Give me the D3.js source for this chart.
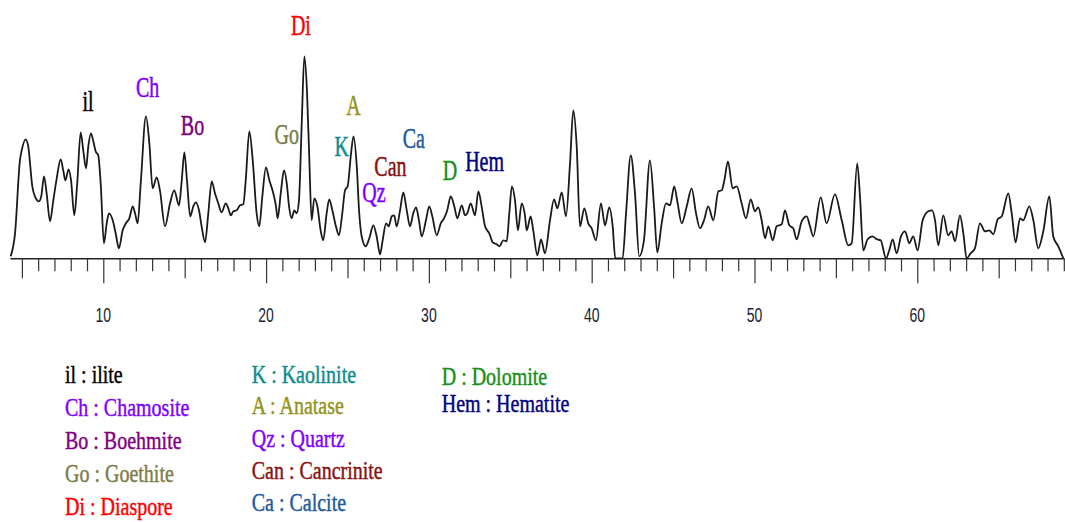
<!DOCTYPE html>
<html>
<head>
<meta charset="utf-8">
<script src="https://cdn.jsdelivr.net/npm/d3@7"></script>
<style>
  body { margin: 0; background: #fff; }
  .peak-label, .legend-item { font-family: "Liberation Serif", "Times New Roman", serif; font-size: 20px; }
  .tick-label { font-family: "Liberation Sans", Arial, sans-serif; font-size: 14px; fill: #1b2233; }
</style>
</head>
<body>
<div id="content"></div>
<script>
// 2-theta (deg) and intensity (a.u.)
var twoTheta = [
  4.31,4.58,4.88,4.99,5.23,5.39,5.64,5.80,6.05,6.19,
  6.36,6.52,6.73,6.93,7.14,7.38,7.54,7.67,7.87,8.02,
  8.22,8.40,8.61,8.77,8.94,9.08,9.24,9.39,9.53,9.69,
  9.84,10.04,10.21,10.35,10.58,10.76,10.96,11.19,11.39,11.60,
  11.81,11.95,12.11,12.30,12.62,12.83,13.03,13.28,13.48,13.79,
  14.10,14.36,14.65,14.82,14.98,15.14,15.34,15.53,15.68,15.88,
  16.04,16.25,16.45,16.66,16.86,17.06,17.27,17.52,17.68,17.83,
  17.99,18.19,18.40,18.60,18.75,18.97,19.18,19.42,19.58,19.77,
  19.99,20.20,20.41,20.61,20.71,20.92,21.10,21.27,21.41,21.57,
  21.73,21.88,22.02,22.19,22.35,22.51,22.65,22.80,22.96,23.15,
  23.35,23.51,23.72,23.88,24.07,24.29,24.48,24.68,24.85,25.01,
  25.22,25.37,25.57,25.71,25.87,26.12,26.34,26.59,26.79,27.00,
  27.16,27.37,27.53,27.72,27.87,28.02,28.23,28.43,28.64,28.84,
  29.04,29.21,29.39,29.56,29.82,30.02,30.21,30.48,30.73,30.93,
  31.13,31.34,31.56,31.75,32.02,32.22,32.36,32.57,32.83,33.04,
  33.24,33.45,33.71,33.92,34.17,34.33,34.57,34.78,34.94,35.10,
  35.29,35.47,35.70,35.90,36.01,36.25,36.41,36.66,36.89,37.13,
  37.44,37.69,37.89,38.16,38.42,38.67,38.87,39.08,39.28,39.55,
  39.79,40.00,40.26,40.57,40.82,41.08,41.29,41.45,41.90,42.11,
  42.40,42.66,42.92,43.21,43.58,43.83,44.03,44.30,44.56,44.81,
  45.07,45.28,45.53,45.84,46.14,46.41,46.65,46.90,47.16,47.47,
  47.78,47.99,48.15,48.37,48.66,48.91,49.21,49.48,49.77,50.03,
  50.23,50.44,50.65,50.85,51.12,51.36,51.67,51.87,52.14,52.38,
  52.59,52.90,53.21,53.41,53.61,54.07,54.43,54.94,55.36,55.76,
  55.97,56.31,56.48,56.68,56.95,57.24,57.51,57.75,58.08,58.28,
  58.49,58.73,59.00,59.25,59.51,59.75,60.02,60.33,60.68,60.92,
  61.09,61.29,61.60,61.90,62.11,62.32,62.62,62.83,63.03,63.28,
  63.54,63.85,64.16,64.42,64.67,64.94,65.19,65.59,65.80,66.04,
  66.31,66.51,66.88,67.13,67.43,67.74,68.11,68.35,68.66,68.97
];
var intensity = [
  2,25,98,108,119,112,72,62,57,62,
  82,65,37,58,80,99,88,78,89,78,
  43,75,126,108,90,112,125,117,107,103,
  75,15,35,45,38,25,10,28,35,40,
  52,45,35,75,142,115,70,81,68,32,
  55,68,53,78,106,78,42,52,56,48,
  32,16,45,77,65,55,46,55,50,43,
  47,48,53,54,78,127,98,45,32,62,
  91,78,67,52,40,68,88,75,52,40,
  48,45,58,135,202,168,102,38,60,52,
  28,18,45,59,48,32,23,45,68,72,
  105,122,92,48,22,12,20,33,22,4,
  18,35,32,42,43,32,48,66,48,32,
  45,51,38,22,38,52,42,23,35,40,
  48,62,52,40,53,43,45,55,43,67,
  52,32,25,16,14,12,18,17,45,72,
  58,28,55,43,28,42,28,3,19,5,
  38,59,50,66,42,95,148,112,32,50,
  35,30,18,55,33,51,32,0,0,45,
  103,65,2,18,98,52,6,35,55,53,
  72,55,35,52,70,45,30,38,52,38,
  67,68,78,97,70,72,55,40,59,47,
  51,38,20,32,18,32,34,48,33,30,
  19,37,42,32,22,61,35,64,38,13,
  15,95,62,8,19,22,19,18,0,8,
  19,5,22,27,15,22,8,38,47,48,
  38,13,43,23,27,17,43,25,0,5,
  10,35,27,28,24,39,42,65,45,16,
  40,38,52,38,10,27,62,22,12,0
];

// phase codes, names and where their tag sits (2-theta, intensity)
var phaseCodes = ["il", "Ch", "Bo", "Go", "Di", "K", "A", "Qz", "Can", "Ca", "D", "Hem"];
var phaseNames = ["ilite", "Chamosite", "Boehmite", "Goethite", "Diaspore", "Kaolinite",
                  "Anatase", "Quartz", "Cancrinite", "Calcite", "Dolomite", "Hematite"];
var labelTheta = [9.06, 12.72, 15.48, 21.27, 22.14, 24.64, 25.36, 26.62, 27.64, 29.07, 31.30, 33.42];
var labelIntensity = [147, 161, 123, 114, 223, 102, 143, 56, 82, 110, 78, 87];

var tickValues = d3.range(5, 70);
var tickLabels = [10, 20, 30, 40, 50, 60];

var phaseColors = ["#000000", "#8000ff", "#800080", "#7d7d48", "#ff0000", "#0f8c8c",
                   "#939320", "#8000ff", "#8b1010", "#1e5aa0", "#17901a", "#000080"];

var width = 1065, height = 522;

var svg = d3.select("#content").append("svg")
  .attr("width", width)
  .attr("height", height);

var x = d3.scaleLinear().domain([4.27, 69]).range([10, 1063.8]);
var y = d3.scaleLinear().domain([0, 200]).range([258.3, 58.3]);

var points = d3.zip(twoTheta, intensity);

var line = d3.line()
  .x(function (d) { return x(d[0]); })
  .y(function (d) { return y(d[1]); })
  .curve(d3.curveMonotoneX);

// axis: one tick per degree, longer at 5s and 10s
var axis = d3.axisBottom(x)
  .tickValues(tickValues)
  .tickSize(13)
  .tickSizeOuter(0)
  .tickFormat("");

var axisG = svg.append("g")
  .attr("transform", "translate(0," + y(0) + ")")
  .call(axis);

axisG.select(".domain").attr("stroke", "#222").attr("stroke-width", 1.6);
axisG.selectAll(".tick line")
  .attr("stroke", "#333")
  .attr("stroke-width", 1.2)
  .attr("y2", function (d) { return d % 10 === 0 ? 25 : (d % 5 === 0 ? 20 : 13); });

svg.append("g").selectAll(".tick-label")
  .data(tickLabels)
  .enter().append("text")
  .attr("class", "tick-label")
  .attr("text-anchor", "middle")
  .attr("transform", function (d) { return "translate(" + x(d) + ",321.5) scale(1,1.5)"; })
  .text(function (d) { return d; });

svg.append("path")
  .datum(points)
  .attr("d", line)
  .attr("fill", "none")
  .attr("stroke", "#1a1a1a")
  .attr("stroke-width", 1.8)
  .attr("stroke-linejoin", "round");

// phase tags above the peaks
svg.append("g").selectAll(".peak-label")
  .data(phaseCodes)
  .enter().append("text")
  .attr("class", "peak-label")
  .attr("text-anchor", "middle")
  .attr("transform", function (d, i) {
    return "translate(" + x(labelTheta[i]) + "," + y(labelIntensity[i]) + ") scale(1,1.45)";
  })
  .attr("fill", function (d, i) { return phaseColors[i]; })
  .attr("stroke", function (d, i) { return phaseColors[i]; })
  .attr("stroke-width", 0.35)
  .text(function (d) { return d; });

// legend, three columns
var legendColX = [65, 251.7, 441.7];
var legendRows = [[383, 416, 449, 482, 515], [383, 414, 446.5, 478.5, 510.5], [385, 412]];
var legendCol = [0, 0, 0, 0, 0, 1, 1, 1, 1, 1, 2, 2];

svg.append("g").selectAll(".legend-item")
  .data(phaseCodes)
  .enter().append("text")
  .attr("class", "legend-item")
  .attr("transform", function (d, i) {
    var c = legendCol[i];
    var r = legendCol.slice(0, i).filter(function (k) { return k === c; }).length;
    return "translate(" + legendColX[c] + "," + legendRows[c][r] + ") scale(1,1.25)";
  })
  .attr("fill", function (d, i) { return phaseColors[i]; })
  .attr("stroke", function (d, i) { return phaseColors[i]; })
  .attr("stroke-width", 0.35)
  .text(function (d, i) { return d + " : " + phaseNames[i]; });
</script>
</body>
</html>
